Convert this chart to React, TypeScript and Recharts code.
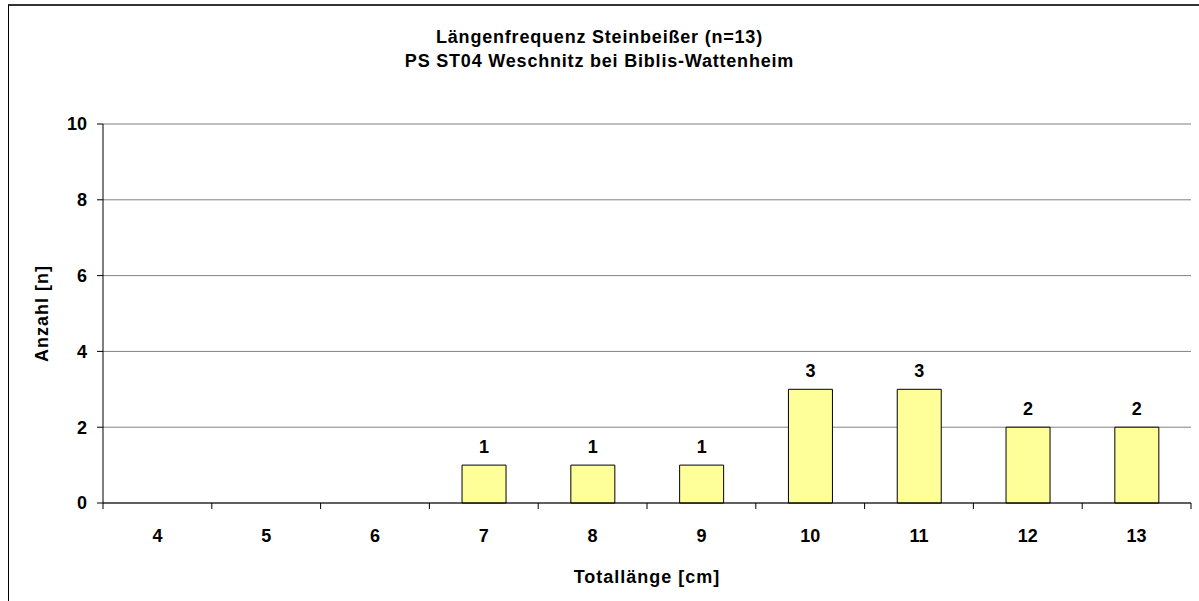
import React from "react"
import { BarChart, Bar, XAxis, YAxis, CartesianGrid, LabelList } from "recharts"

const lengths = [4, 5, 6, 7, 8, 9, 10, 11, 12, 13]
const counts = [0, 0, 0, 1, 1, 1, 3, 3, 2, 2]
const yTicks = [0, 2, 4, 6, 8, 10]

const data = lengths.map((l, i) => ({ length: l, count: counts[i] }))

const font = "Arial, 'Liberation Sans', sans-serif"
const tickStyle = { fontFamily: font, fontSize: 18, fontWeight: "bold", fill: "#000" }
const labelStyle = { ...tickStyle, letterSpacing: 1 }

// category label plus a tick mark on the boundary to the left (and right for the last)
const EdgeTick = (props: any) => {
  const { x, y, payload, index, visibleTicksCount, width } = props
  const half = payload.offset || width / visibleTicksCount / 2
  const last = index === visibleTicksCount - 1
  return (
    <g>
      <line x1={x - half} x2={x - half} y1={y - 6} y2={y} stroke="#000" />
      {last && <line x1={x + half} x2={x + half} y1={y - 6} y2={y} stroke="#000" />}
      <text x={x} y={y + 33} textAnchor="middle" style={tickStyle}>
        {payload.value}
      </text>
    </g>
  )
}

export default function App() {
  return (
    <div style={{ position: "absolute", left: 0, top: 0, width: 1199, height: 601, overflow: "hidden", background: "#fff" }}>
      <div
        style={{
          position: "absolute",
          left: 8,
          top: 4,
          width: 1300,
          height: 700,
          borderLeft: "1px solid #000",
          borderTop: "2px solid #333",
        }}
      />
      <div
        style={{
          position: "absolute",
          left: 0,
          top: 25,
          width: 1199,
          textAlign: "center",
          fontFamily: font,
          fontWeight: "bold",
          fontSize: 18,
          letterSpacing: 0.8,
          lineHeight: "24px",
        }}
      >
        Längenfrequenz Steinbeißer (n=13)
        <br />
        PS ST04 Weschnitz bei Biblis-Wattenheim
      </div>
      <div style={{ position: "absolute", left: 0, top: 0 }}>
        <BarChart
          width={1199}
          height={601}
          data={data}
          margin={{ top: 124, right: 8, left: 43, bottom: 68 }}
          barCategoryGap="30%"
        >
          <CartesianGrid vertical={false} stroke="#808080" />
          <XAxis
            dataKey="length"
            height={30}
            axisLine={{ stroke: "#000" }}
            tickLine={false}
            tickSize={6}
            tickMargin={0}
            tick={<EdgeTick />}
            label={{
              value: "Totallänge [cm]",
              position: "insideBottom",
              offset: -50,
              style: labelStyle,
            }}
          />
          <YAxis
            domain={[0, 10]}
            ticks={yTicks}
            width={60}
            axisLine={{ stroke: "#000" }}
            tickLine={{ stroke: "#000" }}
            tickSize={6}
            tickMargin={10}
            tick={tickStyle}
            label={{
              value: "Anzahl [n]",
              angle: -90,
              position: "insideLeft",
              offset: -1,
              style: { ...labelStyle, textAnchor: "middle" },
            }}
          />
          <YAxis yAxisId="right" orientation="right" width={0} tick={false} axisLine={{ stroke: "#808080" }} />
          <Bar dataKey="count" fill="#FFFF99" stroke="#000" strokeWidth={1} isAnimationActive={false}>
            <LabelList
              dataKey="count"
              position="top"
              offset={12}
              formatter={(v: any) => (v ? v : "")}
              style={tickStyle}
            />
          </Bar>
        </BarChart>
      </div>
    </div>
  )
}
